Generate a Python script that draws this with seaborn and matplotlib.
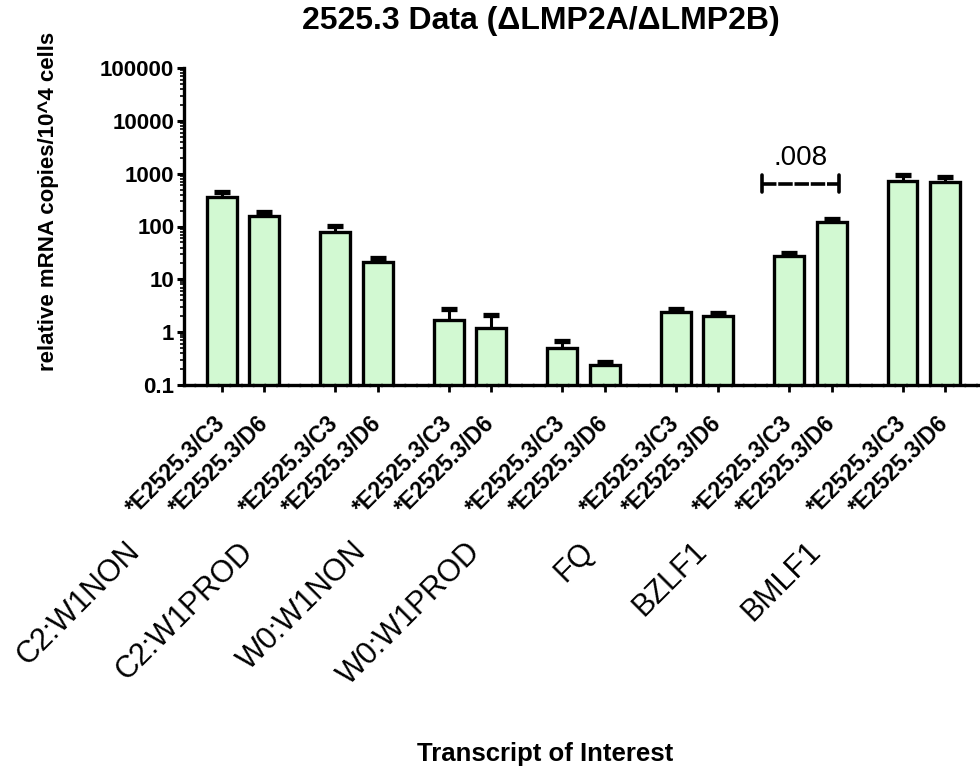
import matplotlib
matplotlib.use("Agg")
import matplotlib.pyplot as plt
import matplotlib.transforms as mtransforms
from matplotlib.ticker import NullFormatter
import numpy as np
import pandas as pd
import seaborn as sns

# values (log axis)
transcripts = ["C2:W1NON", "C2:W1PROD", "W0:W1NON", "W0:W1PROD", "FQ", "BZLF1", "BMLF1"]
clones = ["*E2525.3/C3", "*E2525.3/D6"]
c3_mean = [363, 79, 1.7, 0.5, 2.4, 27.7, 725]
c3_upper = [455, 102, 2.75, 0.68, 2.75, 31.6, 950]
d6_mean = [158, 21, 1.2, 0.24, 2.04, 123, 690]
d6_upper = [190, 25.6, 2.1, 0.27, 2.3, 139, 870]

ytick_values = [0.1, 1, 10, 100, 1000, 10000, 100000]
ytick_labels = ["0.1", "1", "10", "100", "1000", "10000", "100000"]

p_label = ".008"
p_transcript = "BZLF1"
p_height = 650

bar_color = "#CCFFCC"

rows = []
for i, t in enumerate(transcripts):
    rows.append((t, clones[0], c3_mean[i], c3_upper[i]))
    rows.append((t, clones[1], d6_mean[i], d6_upper[i]))
df = pd.DataFrame(rows, columns=["transcript", "clone", "value", "upper"])

sns.set_theme(style="ticks")
plt.rcParams["font.family"] = ["Liberation Sans", "DejaVu Sans"]
plt.rcParams["text.color"] = "black"
plt.rcParams["axes.labelcolor"] = "black"
plt.rcParams["xtick.color"] = "black"
plt.rcParams["ytick.color"] = "black"

fig = plt.figure(figsize=(9.8, 7.75), dpi=100)
ax = fig.add_axes([184 / 980, 1 - 385 / 775, 796 / 980, 317 / 775])

sns.barplot(
    data=df, x="transcript", y="value", hue="clone", order=transcripts,
    hue_order=clones, palette=[bar_color, bar_color], errorbar=None,
    width=0.749, gap=0.295, edgecolor="black", linewidth=2.4,
    legend=False, ax=ax,
)
ax.set_yscale("log")

# bar centres in drawing order (sorted by x = transcript, clone)
bars = sorted(ax.patches, key=lambda p: p.get_x())
centers = np.array([p.get_x() + p.get_width() / 2 for p in bars])

eb = ax.errorbar(
    centers, df["value"], yerr=[np.zeros(len(df)), df["upper"] - df["value"]],
    fmt="none", ecolor="black", elinewidth=2.2, capsize=6, capthick=3.8, zorder=4,
)
eb[1][0].set_visible(False)

ax.set_ylim(0.1, 100000)
ax.set_xlim(-0.522, 6.496)
ax.set_yticks(ytick_values, ytick_labels)
ax.yaxis.set_minor_formatter(NullFormatter())
ax.set_xticks(centers, list(df["clone"]))

for lab in ax.get_yticklabels():
    lab.set_fontsize(16)
    lab.set_fontweight("bold")
for lab in ax.get_xticklabels():
    lab.set_fontsize(16.5)
    lab.set_fontweight("bold")
    lab.set_rotation(45)
    lab.set_ha("right")
    lab.set_va("center")
    lab.set_rotation_mode("anchor")

ax.tick_params(axis="y", which="major", length=5, width=2.2, pad=2)
ax.tick_params(axis="y", which="minor", length=3, width=1.2)
ax.tick_params(axis="x", which="major", length=5, width=2.0, pad=20)

sns.despine(ax=ax)
ax.spines["left"].set_linewidth(2.4)
ax.spines["bottom"].set_linewidth(2.4)
ax.spines["left"].set_color("black")
ax.spines["bottom"].set_color("black")
ax.spines["bottom"].set_linestyle((0, (3, 0.5)))

ax.set_xlabel("")
ax.set_ylabel("relative mRNA copies/10^4 cells", fontsize=16, fontweight="bold")
ax.yaxis.set_label_coords(-0.157, 0.58)

# group labels under the bar labels
trans = mtransforms.blended_transform_factory(ax.transData, ax.transAxes)
for i, t in enumerate(transcripts):
    ax.text(i - 0.95, -0.511, t, transform=trans, rotation=45, ha="right",
            va="center", rotation_mode="anchor", fontsize=22)

# significance bracket
k = transcripts.index(p_transcript)
x0 = centers[2 * k] - 0.24
x1 = centers[2 * k + 1] + 0.07
ax.plot([x0, x1], [p_height, p_height], color="black", lw=2.6,
        linestyle=(0, (4, 0.5)), solid_capstyle="butt", zorder=5)
for xe in (x0, x1):
    ax.plot([xe, xe], [p_height / 1.45, p_height * 1.45], color="black", lw=2.6, zorder=5)
ax.annotate(p_label, xy=((x0 + x1) / 2, p_height), xytext=(0, 9),
            textcoords="offset points", ha="center", va="bottom", fontsize=20)

fig.text(541 / 980, 1 - 21 / 775, "2525.3 Data (\u0394LMP2A/\u0394LMP2B)",
         ha="center", va="center", fontsize=23, fontweight="bold")
fig.text(545 / 980, 1 - 754 / 775, "Transcript of Interest",
         ha="center", va="center", fontsize=18.5, fontweight="bold")

fig.savefig("out.png", dpi=100)
